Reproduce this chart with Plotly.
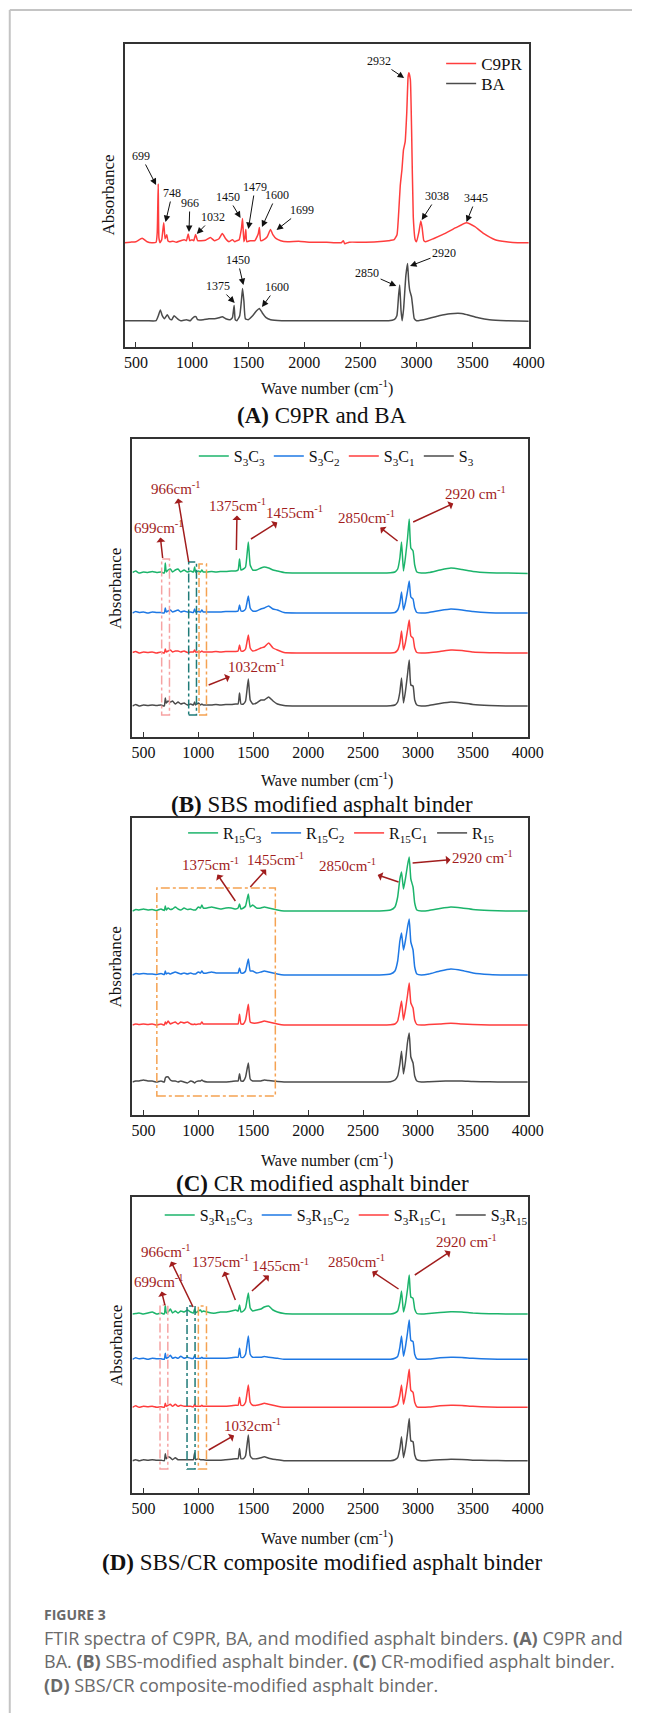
import plotly.graph_objects as go

W, H = 648, 1713
SERIF = "Liberation Serif"

# ---------------- Panel A: C9PR resin and base asphalt (BA) ----------------
WN_C9PR = [400, 450, 500, 555, 600, 640, 680, 690, 699, 705,
           715, 730, 748, 760, 775, 785, 800, 830, 860, 900,
           930, 950, 966, 980, 1000, 1015, 1032, 1050, 1080, 1120,
           1163, 1200, 1240, 1270, 1300, 1330, 1360, 1380, 1400, 1420,
           1440, 1450, 1462, 1470, 1479, 1488, 1520, 1560, 1590, 1600,
           1612, 1640, 1670, 1699, 1720, 1750, 1790, 1850, 1950, 2050,
           2200, 2330, 2348, 2360, 2400, 2500, 2650, 2750, 2800, 2826,
           2841, 2855, 2870, 2884, 2899, 2913, 2925, 2932, 2945, 2956,
           2971, 2988, 3000, 3020, 3038, 3050, 3065, 3080, 3150, 3250,
           3350, 3445, 3520, 3600, 3700, 3800, 3900, 4000]
ABS_C9PR = [0, 0.5, 1, 4.5, 1, 0, 0.5, 10, 58.7, 5,
            0, 3, 20, 4, 8, 2, 1, 1.5, 0.5, 2,
            3, 2, 8.7, 2, 3, 2, 8.3, 2, 2, 2.5,
            5.3, 2, 4, 9.3, 4, 1, 3, 1, 2, 3,
            14, 24.3, 1, 4, 13.3, 1, 2, 2, 9, 15.3,
            2, 3, 6, 13.3, 8, 4, 2, 1, 1.5, 0.5,
            0.5, 0, 2, -1, 0.5, 0.5, 1, 2, 3, 8,
            30, 57, 73, 93, 101, 130, 166, 170, 163, 113,
            26, 3, 1, 10, 21.7, 15, 2, 1, 4, 9,
            15, 20, 16, 9, 3, 1, 0, 0]

WN_BA = [400, 500, 600, 680, 700, 718, 735, 755, 780, 800,
         820, 840, 860, 880, 900, 950, 985, 1000, 1020, 1035,
         1050, 1100, 1150, 1200, 1240, 1270, 1300, 1340, 1360, 1375,
         1385, 1400, 1425, 1440, 1450, 1462, 1475, 1500, 1540, 1575,
         1600, 1625, 1660, 1700, 1800, 2000, 2500, 2750, 2800, 2825,
         2840, 2850, 2862, 2872, 2885, 2905, 2920, 2930, 2940, 2955,
         2965, 2980, 3000, 3100, 3200, 3300, 3400, 3450, 3550, 3650,
         3800, 4000]
ABS_BA = [0, 0, 0, 0, 5, 10.7, 5, 2, 6, 2,
          1, 5, 3, 1, 0, 1, 0, 2, 4, 4,
          1, 1, 2, 2, 3, 4, 2, 1, 3, 15.3,
          1, 0, 5, 20, 32.3, 20, 2, 1, 5, 10,
          12.3, 8, 3, 1, 0, 0, 0, 0, 1, 5,
          25, 35.7, 10, 0, 12, 45, 57.3, 40, 30, 24,
          15, 2, 0, 2, 5, 7, 7.3, 6, 3, 1,
          0, -0.5]

OFFSET_C9PR = 104.3
OFFSET_BA = 26.3

# ---------------- Panels B-D: modified binders on a shared grid ----------------
WN_MOD = [400, 430, 460, 500, 540, 580, 620, 660, 690, 699,
          708, 725, 745, 765, 790, 815, 840, 870, 900, 930,
          955, 966, 975, 1000, 1020, 1032, 1045, 1080, 1120, 1160,
          1200, 1250, 1300, 1340, 1362, 1375, 1388, 1410, 1430, 1455,
          1472, 1495, 1530, 1570, 1600, 1640, 1680, 1720, 1780, 1900,
          2100, 2300, 2500, 2650, 2750, 2790, 2815, 2835, 2850, 2868,
          2885, 2905, 2920, 2935, 2955, 2970, 2990, 3030, 3100, 3200,
          3300, 3400, 3500, 3650, 3800, 4000]

# (B) SBS modified binders
B_S3C3 = [0.5, 2, 0, 1, 0.5, 1.5, 0.5, 1, 0, 10,
          1, 3, 4, 1, 3, 4, 1, 3, 1, 2,
          1, 6, 1, 2, 1, 3, 1, 1, 1.5, 1,
          1.5, 1.5, 2, 2, 3, 14, 3, 4, 6, 31,
          8, 3, 3, 5, 6, 5, 3, 2, 0.5, 0,
          0, 0, 0, 0, 0.3, 1, 4, 15, 31, 2,
          15, 35, 54, 25, 22, 8, 1, 0, 0.5, 3,
          5, 3.5, 1.5, 0.3, 0, -0.5]
B_S3C2 = [0, 1.5, 0.5, 1, 0, 1, 0.5, 0.5, 0, 5,
          1, 2, 3, 1, 2, 3, 1, 2, 1, 1,
          0.5, 4, 1, 1.5, 1, 3, 1, 1, 1, 1,
          1, 1.5, 1.5, 1.5, 2, 8, 2, 2, 4, 17,
          5, 2, 2, 4, 5, 7, 4, 3, 0.5, 0,
          0, 0, 0, 0, 0, 0.5, 3, 10, 21, 3,
          10, 22, 32, 16, 14, 5, 0.5, 0, 0.5, 2.5,
          4, 3, 1.5, 0.3, 0, 0]
B_S3C1 = [0.5, 1.5, 0, 1, 0.5, 1, 0, 1, 0, 4,
          1, 2, 3, 1, 2, 2, 1, 2, 0.5, 1,
          1, 3, 1, 1, 1, 2, 1, 1, 1, 1.5,
          1, 1.5, 1.5, 1.5, 2, 8, 2, 2, 4, 18,
          5, 2, 3, 5, 6, 10, 5, 3, 0.5, 0,
          0, 0, 0, 0, 0, 0.5, 3, 10, 22, 3,
          10, 23, 33, 17, 15, 5, 0.5, 0, 0.3, 1.5,
          3, 2.5, 1, 0.3, 0, 0]
B_S3 = [0, 1.5, 0, 1, 0.5, 1, 0.5, 1, 0, 8,
        3, 5, 4, 5, 2, 4, 2, 3, 1, 2,
        1, 4, 1, 3, 1, 2, 1, 1, 1, 1.5,
        1, 1.5, 1.5, 2, 2, 13, 2, 2, 5, 27,
        6, 2, 3, 6, 6, 9, 5, 2, 0.5, 0,
        0, 0, 0, 0, 0.3, 1, 4, 14, 28, 3,
        14, 32, 46, 21, 20, 6, 1, 0, 0.5, 2.5,
        4, 3, 1.5, 0.5, 0, 0]
OFFSETS_B = [164, 124, 84, 31]

# (C) CR modified binders
C_R15C3 = [0, 1.5, 1, 2, 1, 1.5, 0.5, 2, 0.5, 5,
           1, 3, 1.5, 2, 4, 2, 1, 3, 1.5, 2,
           1, 1, 1, 4, 3, 6, 3, 3, 4, 3,
           2, 3, 3, 2, 3, 7, 2, 3, 5, 17,
           4, 6, 3, 3, 4, 3, 2, 1, 0, 0,
           0, 0, 0, 0, 1, 4, 14, 32, 39, 22,
           32, 46, 54, 32, 24, 8, 1, 0, 0.5, 2.5,
           4, 3, 1.5, 0.5, 0, 0]
C_R15C2 = [0, 1.5, 1, 1.5, 1, 1, 0.5, 1.5, 0.5, 4,
           1, 2, 1, 2, 3, 2, 1, 2, 1, 2,
           1, 1, 1, 3, 2, 4, 2, 2, 3, 2,
           2, 2, 2, 2, 2, 7, 2, 2, 4, 16,
           4, 4, 2, 3, 4, 3, 2, 1, 0, 0,
           0, 0, 0, 0, 1, 4, 14, 34, 42, 25,
           34, 48, 56, 33, 25, 8, 1, 0, 1, 4,
           6, 4.5, 2, 0.5, 0, 0]
C_R15C1 = [0, 1, 0.5, 1, 0.5, 1, 0, 1, 0, 3,
           1, 4, 1, 2, 3, 1, 3, 2, 3, 1,
           0.5, 1, 0.5, 1, 1, 3, 1, 1, 1, 1,
           1, 1, 1, 1, 1, 10.7, 1, 1, 5, 20.7,
           3, 2, 2, 3, 4, 3, 2, 1, 0, 0,
           0, 0, 0, 0, 0.3, 1, 4, 15, 24, 5,
           15, 30, 42, 22, 17, 5, 0.5, 0, 0.5, 1,
           1.7, 1, 0.5, 0, 0, 0]
C_R15 = [0, 1, 1, 2, 1, 1, 0, 1, 0, 4,
         5, 5, 2, 1, 1, 0, 1, 0, -1, 1,
         0, -1, 0, 1, 1, 2, 1, 0, 0, 0,
         0, 0, 0.5, 1, 1, 8.3, 1, 1, 5, 19,
         3, 1, 1, 1, 2, 1.5, 1, 0.5, 0, 0,
         0, 0, 0, 0, 0.3, 2, 6, 18, 30.7, 8,
         20, 40, 49, 25, 19, 6, 1, 0, 0.3, 0.8,
         1, 1, 0.5, 0.2, 0, 0]
OFFSETS_C = [204, 140, 90, 33]

# (D) SBS/CR composite modified binders
D_S3R15C3 = [0, 0.5, 1, 0, 1, 2, 0, 1, 0, 9,
             1, 2, 5, 1, 3, 1, 3, 2, 4, 2,
             1, 5, 1, 3, 4, 2, 3, 2, 1, 1,
             2, 2, 3, 4, 3, 9, 2, 3, 6, 21,
             6, 3, 4, 5, 7, 8, 4, 2, 0.5, 0,
             0, 0, 0, 0, 0, 1, 3, 12, 23, 2,
             10, 25, 39, 17, 15.7, 5, 0.5, 0, 0.5, 1.5,
             2.3, 2, 1, 0.3, 0, 0]
D_S3R15C2 = [0, 1.5, 0.5, 1, 0, 1, 0.5, 0.5, 0, 6,
             1, 2, 4, 1, 2, 1, 3, 1, 2, 1,
             1, 4, 1, 1, 1, 2, 1, 1, 1, 1,
             1, 1, 1.5, 2, 2, 11, 2, 2, 5, 23.3,
             5, 2, 2, 2, 2.7, 2, 1.5, 1, 0, 0,
             0, 0, 0, 0, 0, 1, 3, 12, 23.3, 3,
             12, 27, 39.3, 19, 17.7, 5, 0.5, 0, 0.3, 1.5,
             2, 1.8, 1, 0.3, 0, 0]
D_S3R15C1 = [0, 1.5, 0, 1, 0.5, 1, 0, 0.5, 0, 4,
             1, 2, 3, 1, 3, 1, 2, 1, 1, 1,
             0.5, 3, 1, 1, 1, 2, 1, 1, 1, 1,
             1, 1, 1.5, 2, 2, 10, 2, 2, 5, 22.3,
             5, 2, 2, 3, 4, 3, 2, 1, 0, 0,
             0, 0, 0, 0, 0, 1, 3, 12, 22.3, 3,
             12, 26, 38, 17, 15, 5, 0.5, 0, 0.3, 1.5,
             2, 1.8, 1, 0.3, 0, 0]
D_S3R15 = [0, 1, 0, 1, 0.5, 1, 0.5, 0.5, 0, 7,
           2, 4, 3, 1, 3, 1, 1, 1, 1, 1,
           1, 8, 1, 2, 1, 1, 1, 0.5, 0.5, 0.5,
           0.5, 1, 1.5, 2, 2, 12.3, 2, 2, 5, 25.7,
           5, 2, 2, 3, 4, 2.5, 1.5, 1, 0, 0,
           0, 0, 0, 0, 0, 1, 3, 12, 24, 3,
           12, 28, 42.3, 20, 19, 6, 1, 0, 0.3, 1,
           1.5, 1.2, 0.5, 0.2, 0, 0]
OFFSETS_D = [179, 133.7, 85.7, 32.3]

NAMES_B = ["S<sub>3</sub>C<sub>3</sub>", "S<sub>3</sub>C<sub>2</sub>",
           "S<sub>3</sub>C<sub>1</sub>", "S<sub>3</sub>"]
NAMES_C = ["R<sub>15</sub>C<sub>3</sub>", "R<sub>15</sub>C<sub>2</sub>",
           "R<sub>15</sub>C<sub>1</sub>", "R<sub>15</sub>"]
NAMES_D = ["S<sub>3</sub>R<sub>15</sub>C<sub>3</sub>", "S<sub>3</sub>R<sub>15</sub>C<sub>2</sub>",
           "S<sub>3</sub>R<sub>15</sub>C<sub>1</sub>", "S<sub>3</sub>R<sub>15</sub>"]

TICKS = [500, 1000, 1500, 2000, 2500, 3000, 3500, 4000]

GREEN, BLUE, RED, GRAY = "#1cb46b", "#1e78e4", "#ff3d3d", "#4b4b4b"
SERIES_COLORS = [GREEN, BLUE, RED, GRAY]
MARK_RED = "#a11d1d"

# panel frames in page pixels: (left, right, top, bottom)
FRAMES = {1: (127, 542, 44, 347), 2: (135, 541, 439, 737),
          3: (135, 541, 818, 1115), 4: (135, 541, 1197, 1493)}


def px(x):
    return x / W


def py(y):
    return 1 - y / H


fig = go.Figure()


def add_line(n, x, y, offset, name, color, legend):
    fig.add_trace(go.Scatter(
        x=x, y=[v + offset for v in y], mode="lines", name=name,
        line=dict(color=color, width=1.5, shape="spline", smoothing=0.4),
        xaxis="x" if n == 1 else f"x{n}", yaxis="y" if n == 1 else f"y{n}",
        legend=legend, showlegend=True, hoverinfo="skip"))


add_line(1, WN_C9PR, ABS_C9PR, OFFSET_C9PR, "C9PR", RED, "legend")
add_line(1, WN_BA, ABS_BA, OFFSET_BA, "BA", GRAY, "legend5")

for n, series, offsets, names, leg in [
        (2, [B_S3C3, B_S3C2, B_S3C1, B_S3], OFFSETS_B, NAMES_B, "legend2"),
        (3, [C_R15C3, C_R15C2, C_R15C1, C_R15], OFFSETS_C, NAMES_C, "legend3"),
        (4, [D_S3R15C3, D_S3R15C2, D_S3R15C1, D_S3R15], OFFSETS_D, NAMES_D, "legend4")]:
    for vals, off, name, col in zip(series, offsets, names, SERIES_COLORS):
        add_line(n, WN_MOD, vals, off, name, col, leg)

layout = dict(
    width=W, height=H, margin=dict(l=0, r=0, t=0, b=0),
    paper_bgcolor="white", plot_bgcolor="white", showlegend=True,
    font=dict(family=SERIF, color="#111", size=16),
    annotations=[], shapes=[],
)

for n, (l, r, t, b) in FRAMES.items():
    sx = "" if n == 1 else str(n)
    layout["xaxis" + sx] = dict(
        domain=[px(l), px(r)], anchor="y" + sx, range=[400, 4000],
        tickvals=TICKS, ticks="inside", ticklen=5, tickwidth=1, tickcolor="#333",
        showline=True, linecolor="#333", linewidth=1.5, mirror=True,
        showgrid=False, zeroline=False,
        tickfont=dict(family=SERIF, size=16, color="#111"))
    layout["yaxis" + sx] = dict(
        domain=[py(b), py(t)], anchor="x" + sx, range=[0, b - t],
        showticklabels=False, ticks="", showline=True, linecolor="#333",
        linewidth=1.5, mirror=True, showgrid=False, zeroline=False)

# legends: panel A uses one legend per row, panels B-D one horizontal row each
for leg, yc in [("legend", 64), ("legend5", 84)]:
    layout[leg] = dict(x=px(452), y=py(yc), xanchor="left", yanchor="middle",
                       orientation="v", bgcolor="rgba(0,0,0,0)", visible=True,
                       font=dict(family=SERIF, size=17, color="#111"), itemwidth=30)
for leg, x0, yc, ew in [("legend2", 198, 456, 30), ("legend3", 187, 833, 38),
                        ("legend4", 163, 1215, 52)]:
    layout[leg] = dict(x=px(x0), y=py(yc), xanchor="left", yanchor="middle",
                       orientation="h", bgcolor="rgba(0,0,0,0)",
                       entrywidth=ew, entrywidthmode="pixels",
                       font=dict(family=SERIF, size=16, color="#111"),
                       itemwidth=30)

ann = layout["annotations"]
shp = layout["shapes"]

# panel A peak labels: (text, text_x, text_y, peak_x, peak_y); arrows point at the peak
PEAKS_A = [
    ("699", 547, 191, 680, 162),
    ("748", 825, 154, 764, 125),
    ("966", 981, 144, 973, 115),
    ("1032", 1189, 130, 1042, 113),
    ("1450", 1320, 150, 1432, 129),
    ("1479", 1562, 160, 1502, 118),
    ("1600", 1753, 152, 1623, 120),
    ("1699", 1979, 137, 1753, 117),
    ("2932", 2664, 286, 2890, 269),
    ("3038", 3185, 151, 3046, 127),
    ("3445", 3532, 149, 3445, 125),
    ("1450", 1406, 87, 1458, 62),
    ("1375", 1233, 61, 1380, 44),
    ("1600", 1753, 60, 1623, 40),
    ("2850", 2560, 74, 2820, 61),
    ("2920", 3245, 94, 2942, 81),
]

# panels B-D: (text, text_x, text_y, start_x, start_y); arrows run from the band to the label
CM = "cm<sup>-1</sup>"
PEAKS_B = [
    ("966" + CM, 799, 249, 912, 175),
    ("699" + CM, 644, 210, 675, 179),
    ("1375" + CM, 1353, 232, 1346, 187),
    ("1455" + CM, 1872, 225, 1479, 198),
    ("2850" + CM, 2534, 220, 2814, 196),
    ("2920 " + CM, 3528, 244, 2956, 215),
    ("1032" + CM, 1526, 71, 1094, 52),
]
PEAKS_C = [
    ("1375" + CM, 1109, 251, 1337, 214),
    ("1455" + CM, 1703, 256, 1473, 228),
    ("2850" + CM, 2360, 250, 2823, 233),
    ("2920 " + CM, 3588, 258, 2951, 252),
]
PEAKS_D = [
    ("966" + CM, 705, 242, 952, 186),
    ("699" + CM, 642, 212, 695, 188),
    ("1375" + CM, 1198, 232, 1337, 193),
    ("1455" + CM, 1748, 228, 1488, 202),
    ("2850" + CM, 2439, 232, 2823, 204),
    ("2920 " + CM, 3441, 252, 2971, 218),
    ("1032" + CM, 1493, 68, 1094, 43),
]


def add_peaks(n, peaks, color, size, awidth, asize, side):
    sx = "" if n == 1 else str(n)
    for text, tx, ty, x, y in peaks:
        ann.append(dict(x=x, y=y, ax=tx, ay=ty, xref="x" + sx, yref="y" + sx,
                        axref="x" + sx, ayref="y" + sx, text=text, showarrow=True,
                        arrowhead=2, arrowsize=asize, arrowwidth=awidth, arrowcolor=color,
                        arrowside=side, standoff=0, startstandoff=0,
                        font=dict(family=SERIF, size=size, color=color)))


add_peaks(1, PEAKS_A, "#111", 12, 1, 1.3, "end")
add_peaks(2, PEAKS_B, MARK_RED, 15, 1.5, 1.1, "start")
add_peaks(3, PEAKS_C, MARK_RED, 15, 1.5, 1.1, "start")
add_peaks(4, PEAKS_D, MARK_RED, 15, 1.5, 1.1, "start")

# dash-dot marker boxes: (panel, wn0, wn1, bottom, top, color)
BOXES = [
    (2, 666, 737, 22, 178, "#f6a3a3"),
    (2, 912, 983, 22, 175, "#1f7b78"),
    (2, 1006, 1074, 22, 173, "#f5a252"),
    (3, 622, 1701, 19, 227, "#f5a252"),
    (4, 651, 722, 24, 188, "#f6a3a3"),
    (4, 897, 970, 24, 187, "#1f7b78"),
    (4, 1000, 1074, 24, 187, "#f5a252"),
]
for n, x0, x1, y0, y1, col in BOXES:
    sx = str(n)
    shp.append(dict(type="rect", xref="x" + sx, yref="y" + sx, x0=x0, x1=x1, y0=y0, y1=y1,
                    line=dict(color=col, width=1.5, dash="dashdot"), fillcolor="rgba(0,0,0,0)"))

# axis titles and panel captions
TITLES = ["<b>(A)</b> C9PR and BA", "<b>(B)</b> SBS modified asphalt binder",
          "<b>(C)</b> CR modified asphalt binder",
          "<b>(D)</b> SBS/CR composite modified asphalt binder"]
XTITLE_Y = [388, 780, 1159, 1537]
TITLE_Y = [415, 804, 1183, 1562]
for n, (l, r, t, b) in FRAMES.items():
    ann.append(dict(x=px(335), y=py(XTITLE_Y[n - 1]), xref="paper", yref="paper",
                    xanchor="center", yanchor="middle",
                    text="Wave number (cm<sup>-1</sup>)", showarrow=False,
                    font=dict(family=SERIF, size=16, color="#111")))
    ann.append(dict(x=px(330), y=py(TITLE_Y[n - 1]), xref="paper", yref="paper",
                    xanchor="center", yanchor="middle",
                    text=TITLES[n - 1], showarrow=False,
                    font=dict(family=SERIF, size=23, color="#111")))
    ann.append(dict(x=px(l - 17), y=py((t + b) / 2), xref="paper", yref="paper",
                    xanchor="center", yanchor="middle",
                    text="Absorbance", textangle=-90, showarrow=False,
                    font=dict(family=SERIF, size=17, color="#111")))

# figure caption: heading plus one three-line paragraph
CAP_FONT = "Open Sans"
CAP_COLOR = "#6a6a6a"
ann.append(dict(x=px(42), y=py(1614), xref="paper", yref="paper",
                xanchor="left", yanchor="middle",
                text="<b>FIGURE 3</b>", showarrow=False,
                font=dict(family=CAP_FONT, size=14, color=CAP_COLOR)))
CAPTION = [
    "FTIR spectra of C9PR, BA, and modified asphalt binders. <b>(A)</b> C9PR and",
    "BA. <b>(B)</b> SBS-modified asphalt binder. <b>(C)</b> CR-modified asphalt binder.",
    "<b>(D)</b> SBS/CR composite-modified asphalt binder.",
]
ann.append(dict(x=px(42), y=py(1661), xref="paper", yref="paper",
                xanchor="left", yanchor="middle", align="left",
                text="<br>".join(CAPTION), showarrow=False,
                font=dict(family=CAP_FONT, size=18, color=CAP_COLOR)))

# page frame
shp.append(dict(type="line", xref="paper", yref="paper", x0=px(9), x1=1, y0=py(10), y1=py(10),
                line=dict(color="#c4c4c4", width=2)))
shp.append(dict(type="line", xref="paper", yref="paper", x0=px(9), x1=px(9), y0=py(10), y1=0,
                line=dict(color="#c4c4c4", width=2)))

fig.update_layout(**layout)
fig.write_html("out.html")
